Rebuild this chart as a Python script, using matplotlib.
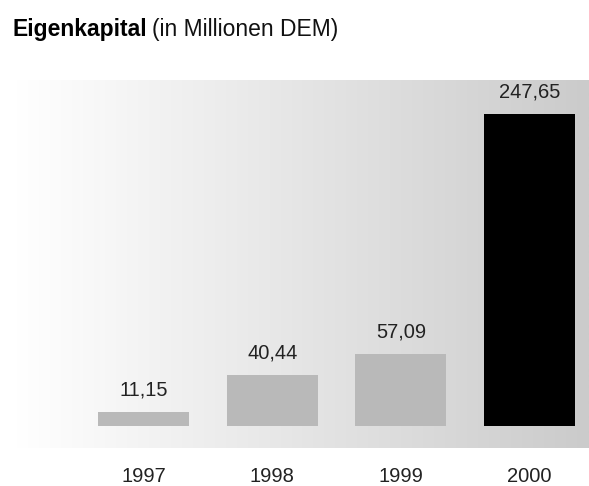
import numpy as np
import matplotlib
matplotlib.use("Agg")
import matplotlib.pyplot as plt
from matplotlib.colors import LinearSegmentedColormap

years = ["1997", "1998", "1999", "2000"]
equity = [11.15, 40.44, 57.09, 247.65]
value_labels = ["11,15", "40,44", "57,09", "247,65"]
bar_colors = ["#b9b9b9", "#b9b9b9", "#b9b9b9", "#000000"]

plt.rcParams["font.family"] = ["Liberation Sans", "DejaVu Sans"]

W, H = 589, 486
fig = plt.figure(figsize=(W / 100, H / 100), dpi=100)
fig.patch.set_facecolor("white")

# plot area: shaded band from x=16 to the right edge, y=80..448 px
ax = fig.add_axes([16 / W, (H - 448) / H, (W - 16) / W, 368 / H])
ax.set_xlim(-0.991, 3.462)
ax.set_ylim(-17.46, 274.6)

# horizontal grey gradient background
cmap = LinearSegmentedColormap.from_list("bg", ["#ffffff", "#cbcbcb"])
grad = np.linspace(0, 1, 256).reshape(1, -1)
ax.imshow(grad, cmap=cmap, aspect="auto", extent=[-0.991, 3.462, -17.46, 274.6],
          zorder=0, interpolation="bilinear")

x = np.arange(len(years))
ax.bar(x, equity, width=0.707, color=bar_colors, zorder=2)

for xi, v, lab in zip(x, equity, value_labels):
    ax.annotate(lab, (xi, v), xytext=(0, 9), textcoords="offset points",
                ha="center", va="bottom", fontsize=14.5, color="#222222")

ax.set_xticks(x)
ax.set_xticklabels(years, fontsize=14.5, color="#222222")
ax.tick_params(axis="x", length=0, pad=14)
ax.set_yticks([])
for s in ax.spines.values():
    s.set_visible(False)

# title: bold word followed by regular unit text
t1 = fig.text(13 / W, 1 - 36 / H, "Eigenkapital", fontsize=16.5, fontweight="bold",
              color="#000000", ha="left", va="baseline")
fig.canvas.draw()
bb = t1.get_window_extent()
fig.text((bb.x1 + 4) / W, 1 - 36 / H, "(in Millionen DEM)", fontsize=16.5,
         color="#111111", ha="left", va="baseline")

fig.savefig("out.png", dpi=100, facecolor="white")
